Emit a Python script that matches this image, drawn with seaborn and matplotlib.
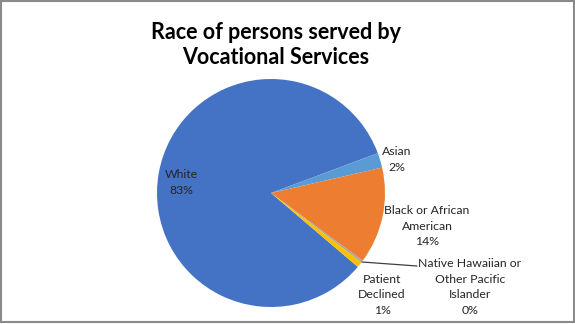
import matplotlib
matplotlib.use("Agg")
import matplotlib.pyplot as plt
import seaborn as sns
from matplotlib.patches import Rectangle

# ---- data ----
categories = ["White", "Asian", "Black or African\nAmerican",
              "Native Hawaiian or\nOther Pacific\nIslander", "Patient\nDeclined"]
values = [83.1, 2.1, 13.7, 0.3, 0.8]
pct_labels = ["83%", "2%", "14%", "0%", "1%"]
colors = ["#4472C4", "#5B9BD5", "#ED7D31", "#A5A5A5", "#FFC000"]
title = "Race of persons served by\nVocational Services"

sns.set_theme(style="white")
plt.rcParams["font.family"] = ["Lato", "DejaVu Sans"]

W, H = 575, 324
fig = plt.figure(figsize=(W / 100, H / 100), dpi=100)
fig.patch.set_facecolor("white")

# pie axes: center (271,193) px, radius 114 px
cx, cy, r = 271, 193, 114
ax = fig.add_axes([(cx - r) / W, (H - cy - r) / H, 2 * r / W, 2 * r / H])
ax.pie(values, colors=colors, startangle=-40.4, counterclock=False,
       radius=1, wedgeprops=dict(linewidth=0))
ax.set_xlim(-1, 1)
ax.set_ylim(-1, 1)
ax.set_aspect("equal")
ax.axis("off")

def px(x, y):
    return (x - cx) / r, (cy - y) / r

label_pos = [(181, 182.5), (397, 159.5), (427, 226), (470, 287), (382, 295)]
for cat, pct, (x, y) in zip(categories, pct_labels, label_pos):
    dx, dy = px(x, y)
    ax.text(dx, dy, f"{cat}\n{pct}", ha="center", va="center", fontsize=8.8,
            color="#262626", linespacing=1.5, clip_on=False)

# leader line for Native Hawaiian
(x0, y0), (x1, y1) = px(362, 262), px(417, 266)
ax.plot([x0, x1], [y0, y1], color="#404040", lw=0.9, clip_on=False)

fig.text(276 / W, 1 - 45 / H, title, ha="center", va="center",
         fontsize=15.5, fontweight="bold", color="black", linespacing=1.2)

fig.patches.append(Rectangle((0.5 / W, 2 / H), (W - 2) / W, (H - 3) / H,
                             transform=fig.transFigure, fill=False,
                             edgecolor="#8a8a8a", linewidth=1.5))

fig.savefig("out.png", dpi=100, facecolor="white")
